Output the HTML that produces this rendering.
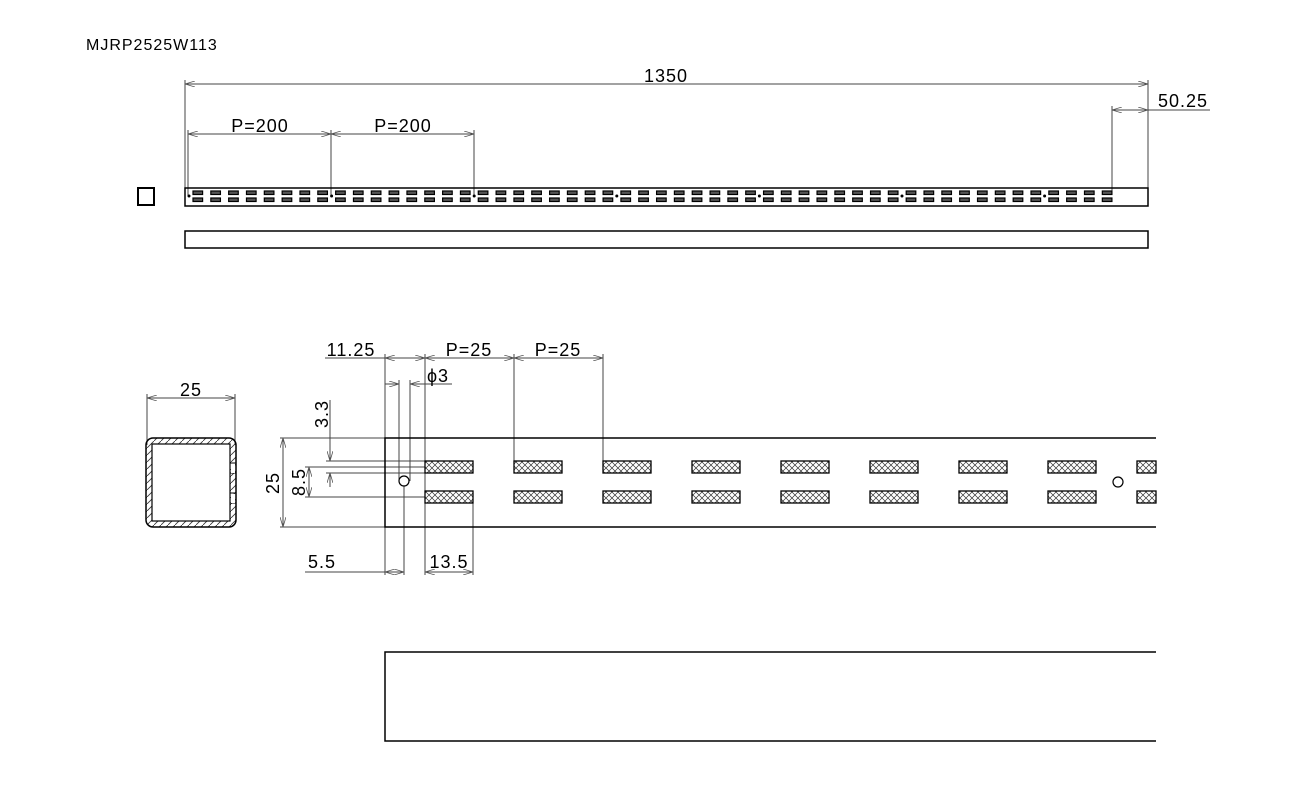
<!DOCTYPE html>
<html><head><meta charset="utf-8"><style>
html,body{margin:0;padding:0;background:#fff;width:1300px;height:800px;overflow:hidden}
text{font-family:"Liberation Sans",sans-serif;fill:#000;letter-spacing:1px}
</style></head><body>
<svg id="s" width="1300" height="800" viewBox="0 0 1300 800" xmlns="http://www.w3.org/2000/svg">
<defs>
<pattern id="xh" width="6" height="6" patternUnits="userSpaceOnUse">
<path d="M0 0L6 6M6 0L0 6" stroke="#333" stroke-width="0.7"/>
</pattern>
<pattern id="dh" width="7" height="7" patternUnits="userSpaceOnUse">
<path d="M0 7L7 0" stroke="#333" stroke-width="0.8"/>
</pattern>
<marker id="a" markerWidth="10" markerHeight="6" refX="10" refY="3" orient="auto-start-reverse" markerUnits="userSpaceOnUse"><path d="M0 0L10 3L0 6" fill="none" stroke="#555" stroke-width="0.8"/></marker>
</defs>
<text x="86" y="50" font-size="16">MJRP2525W113</text>
<g stroke="#444" stroke-width="1" fill="none">
<line x1="185" y1="84" x2="1148" y2="84" marker-start="url(#a)" marker-end="url(#a)"/>
<line x1="185" y1="80" x2="185" y2="190"/><line x1="1148" y1="80" x2="1148" y2="190"/>
<line x1="1112" y1="110" x2="1148" y2="110" marker-start="url(#a)" marker-end="url(#a)"/>
<line x1="1148" y1="110" x2="1210" y2="110"/>
<line x1="1112" y1="106" x2="1112" y2="192"/>
<line x1="188" y1="134" x2="331" y2="134" marker-start="url(#a)" marker-end="url(#a)"/>
<line x1="331" y1="134" x2="474" y2="134" marker-start="url(#a)" marker-end="url(#a)"/>
<line x1="188" y1="130" x2="188" y2="196"/><line x1="331" y1="130" x2="331" y2="196"/><line x1="474" y1="130" x2="474" y2="196"/>
</g>
<text x="666" y="82" font-size="18" text-anchor="middle">1350</text>
<text x="1183" y="107" font-size="18" text-anchor="middle">50.25</text>
<text x="260" y="132" font-size="18" text-anchor="middle">P=200</text>
<text x="403" y="132" font-size="18" text-anchor="middle">P=200</text>
<rect x="138" y="188" width="16" height="17" fill="none" stroke="#000" stroke-width="2"/>
<rect x="185" y="188" width="963" height="18" fill="none" stroke="#000" stroke-width="1.5"/>
<g id="topslots"></g>
<rect x="185" y="231" width="963" height="17" fill="none" stroke="#000" stroke-width="1.5"/>

<g stroke="#444" fill="none">
<line x1="147" y1="398" x2="235" y2="398" marker-start="url(#a)" marker-end="url(#a)"/>
<line x1="147" y1="394" x2="147" y2="445"/><line x1="235" y1="394" x2="235" y2="445"/>
</g>
<text x="191" y="396" font-size="18" text-anchor="middle">25</text>
<rect x="146" y="438" width="90" height="89" rx="7" fill="url(#dh)" stroke="#000" stroke-width="1.5"/>
<rect x="152" y="444" width="78" height="77" fill="#fff" stroke="#000" stroke-width="1.2"/>
<g stroke="#000" stroke-width="1"><line x1="230" y1="463" x2="236" y2="463"/><line x1="230" y1="473" x2="236" y2="473"/><line x1="230" y1="493" x2="236" y2="493"/><line x1="230" y1="503" x2="236" y2="503"/></g>
<rect x="231" y="464" width="4" height="9" fill="#fff"/><rect x="231" y="494" width="4" height="9" fill="#fff"/>

<g stroke="#444" stroke-width="1" fill="none">
<line x1="325" y1="358" x2="385" y2="358"/>
<line x1="385" y1="358" x2="425" y2="358" marker-start="url(#a)" marker-end="url(#a)"/>
<line x1="425" y1="358" x2="514" y2="358" marker-start="url(#a)" marker-end="url(#a)"/>
<line x1="514" y1="358" x2="603" y2="358" marker-start="url(#a)" marker-end="url(#a)"/>
<line x1="385" y1="354" x2="385" y2="575"/>
<line x1="425" y1="354" x2="425" y2="575"/>
<line x1="514" y1="354" x2="514" y2="461"/>
<line x1="603" y1="354" x2="603" y2="461"/>
<line x1="385" y1="384" x2="399" y2="384" marker-end="url(#a)"/>
<line x1="410" y1="384" x2="452" y2="384" marker-start="url(#a)"/>
<line x1="399" y1="380" x2="399" y2="481"/><line x1="410" y1="380" x2="410" y2="481"/>
<line x1="404" y1="486" x2="404" y2="575"/>
<line x1="305" y1="572" x2="385" y2="572"/>
<line x1="385" y1="572" x2="404" y2="572" marker-start="url(#a)" marker-end="url(#a)"/>
<line x1="473" y1="503" x2="473" y2="575"/>
<line x1="425" y1="572" x2="473" y2="572" marker-start="url(#a)" marker-end="url(#a)"/>
<line x1="280" y1="438" x2="385" y2="438"/>
<line x1="280" y1="527" x2="385" y2="527"/>
<line x1="283" y1="438" x2="283" y2="527" marker-start="url(#a)" marker-end="url(#a)"/>
<line x1="330" y1="400" x2="330" y2="461" marker-end="url(#a)"/>
<line x1="330" y1="473" x2="330" y2="487" marker-start="url(#a)"/>
<line x1="326" y1="461" x2="425" y2="461"/>
<line x1="326" y1="473" x2="425" y2="473"/>
<line x1="305" y1="467" x2="425" y2="467"/>
<line x1="305" y1="497" x2="425" y2="497"/>
<line x1="309" y1="467" x2="309" y2="497" marker-start="url(#a)" marker-end="url(#a)"/>
</g>
<text x="351" y="356" font-size="18" text-anchor="middle">11.25</text>
<text x="469" y="356" font-size="18" text-anchor="middle">P=25</text>
<text x="558" y="356" font-size="18" text-anchor="middle">P=25</text>
<text x="438" y="382" font-size="18" text-anchor="middle">ϕ3</text>
<text x="322" y="568" font-size="18" text-anchor="middle">5.5</text>
<text x="449" y="568" font-size="18" text-anchor="middle">13.5</text>
<text transform="translate(279,483) rotate(-90)" font-size="18" text-anchor="middle">25</text>
<text transform="translate(328,414) rotate(-90)" font-size="18" text-anchor="middle">3.3</text>
<text transform="translate(305,482) rotate(-90)" font-size="18" text-anchor="middle">8.5</text>
<path d="M1156 438H385V527H1156" fill="none" stroke="#000" stroke-width="1.5"/>
<circle cx="404" cy="481" r="5" fill="none" stroke="#000" stroke-width="1.2"/>
<circle cx="1118" cy="482" r="5" fill="none" stroke="#000" stroke-width="1.2"/>
<g id="dslots"></g>
<path d="M1156 652H385V741H1156" fill="none" stroke="#000" stroke-width="1.5"/>
</svg>
<script>
var NS="http://www.w3.org/2000/svg";
function r(p,x,y,w,h,f,sw){var e=document.createElementNS(NS,"rect");e.setAttribute("x",x);e.setAttribute("y",y);e.setAttribute("width",w);e.setAttribute("height",h);e.setAttribute("fill",f);e.setAttribute("stroke","#000");e.setAttribute("stroke-width",sw);p.appendChild(e);}
var t=document.getElementById("topslots");
for(var i=0;i<52;i++){var x=193+i*17.83;r(t,x,191,9.6,3.5,"#555",1.2);r(t,x,198,9.6,3.5,"#555",1.2);}
for(var k=0;k<7;k++){var c=document.createElementNS(NS,"circle");c.setAttribute("cx",189+k*142.6);c.setAttribute("cy",196);c.setAttribute("r",1.5);c.setAttribute("fill","#000");t.appendChild(c);}
var d=document.getElementById("dslots");
for(var i=0;i<9;i++){var x=425+i*89;var w=Math.min(48,1156-x);r(d,x,461,w,12,"url(#xh)",1.3);r(d,x,491,w,12,"url(#xh)",1.3);}
</script>
</body></html>
